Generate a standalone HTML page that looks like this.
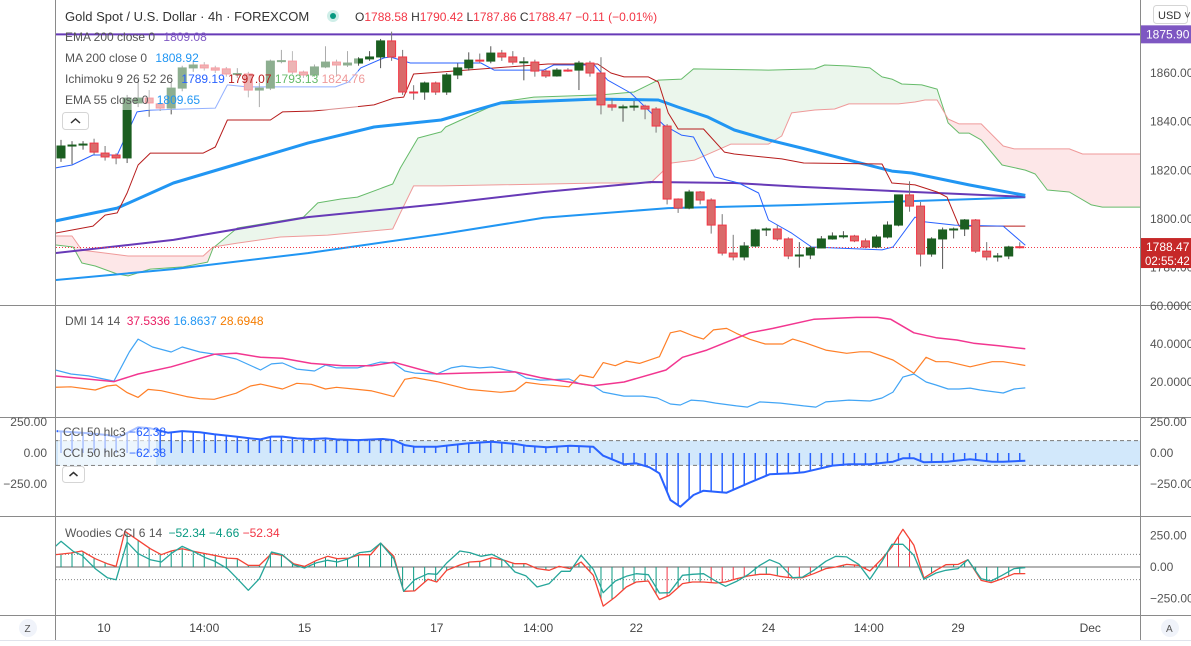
<!DOCTYPE html>
<html><head><meta charset="utf-8">
<style>
html,body{margin:0;padding:0;background:#fff;width:1191px;height:646px;overflow:hidden;font-family:"Liberation Sans",sans-serif;}
svg text{font-family:"Liberation Sans",sans-serif;}
</style></head>
<body>
<svg id="chart" width="1191" height="646" viewBox="0 0 1191 646" xmlns="http://www.w3.org/2000/svg">
<defs>
<clipPath id="cMain"><rect x="56" y="0" width="1084" height="305"/></clipPath>
<clipPath id="cDmi"><rect x="56" y="306" width="1084" height="111"/></clipPath>
<clipPath id="cCci"><rect x="56" y="418" width="1084" height="98"/></clipPath>
<clipPath id="cWood"><rect x="56" y="517" width="1084" height="98"/></clipPath>
<clipPath id="cAboveB"><path id="pAboveB" d=""/></clipPath>
<clipPath id="cAboveA"><path id="pAboveA" d=""/></clipPath>
</defs>
<rect x="0" y="0" width="1191" height="646" fill="#fff"/>
<g id="gMain" clip-path="url(#cMain)"></g>
<g id="gDmi" clip-path="url(#cDmi)"></g>
<g id="gCci" clip-path="url(#cCci)"></g>
<g id="gWood" clip-path="url(#cWood)"></g>
<g stroke="#8a8a8a" stroke-width="1">
<line x1="55.5" y1="0" x2="55.5" y2="640"/>
<line x1="1140.5" y1="0" x2="1140.5" y2="640"/>
<line x1="0" y1="305.5" x2="1191" y2="305.5"/>
<line x1="0" y1="417.5" x2="1191" y2="417.5"/>
<line x1="0" y1="516.5" x2="1191" y2="516.5"/>
<line x1="0" y1="615.5" x2="1191" y2="615.5"/>
</g>
<line x1="0" y1="640.5" x2="1191" y2="640.5" stroke="#e0e3eb"/>
<g id="gAxis" font-size="12" fill="#555"></g>
<g font-size="12">
<rect x="58" y="46" width="300" height="64" fill="#fff" fill-opacity="0.5"/>
<text x="65" y="21" font-size="13" fill="#333">Gold Spot / U.S. Dollar · 4h · FOREXCOM</text>
<circle cx="333" cy="16" r="6" fill="#cfeee8"/><circle cx="333" cy="16" r="3" fill="#089981"/>
<text x="355" y="21" fill="#333">O<tspan fill="#f23645">1788.58</tspan> H<tspan fill="#f23645">1790.42</tspan> L<tspan fill="#f23645">1787.86</tspan> C<tspan fill="#f23645">1788.47</tspan> <tspan fill="#f23645">−0.11 (−0.01%)</tspan></text>
<text x="65" y="41" fill="#555">EMA 200 close 0 <tspan dx="5" fill="#7e57c2">1809.08</tspan></text>
<text x="65" y="62" fill="#555">MA 200 close 0 <tspan dx="5" fill="#2196f3">1808.92</tspan></text>
<text x="65" y="83" fill="#555">Ichimoku 9 26 52 26 <tspan dx="5" fill="#2962ff">1789.19</tspan> <tspan fill="#b71c1c">1797.07</tspan> <tspan fill="#66bb6a">1793.13</tspan> <tspan fill="#ef9a9a">1824.76</tspan></text>
<text x="65" y="104" fill="#555">EMA 55 close 0 <tspan dx="5" fill="#2196f3">1809.65</tspan></text>
<rect x="62.5" y="112.5" width="26" height="17" rx="3" fill="#fff" stroke="#d5d5d5"/>
<path d="M71 123 L75.5 119 L80 123" fill="none" stroke="#333" stroke-width="1.5"/>
</g>
<g font-size="12">
<text x="65" y="325" fill="#555">DMI 14 14 <tspan dx="3" fill="#e91e63">37.5336</tspan> <tspan fill="#2196f3">16.8637</tspan> <tspan fill="#f57c00">28.6948</tspan></text>
</g>
<g font-size="12">
<rect x="58" y="425" width="98" height="40" fill="#fff" fill-opacity="0.6"/>
<text x="63" y="436" fill="#555">CCI 50 hlc3 <tspan fill="#2962ff">−62.38</tspan></text>
<text x="63" y="457" fill="#555">CCI 50 hlc3 <tspan fill="#2962ff">−62.38</tspan></text>
<rect x="62.5" y="466.5" width="22" height="16" rx="3" fill="#fff" stroke="#d5d5d5"/>
<path d="M69.5 476 L73.5 472.5 L77.5 476" fill="none" stroke="#333" stroke-width="1.5"/>
</g>
<g font-size="12">
<text x="65" y="537" fill="#555">Woodies CCI 6 14 <tspan dx="3" fill="#089981">−52.34</tspan> <tspan fill="#089981">−4.66</tspan> <tspan fill="#f23645">−52.34</tspan></text>
</g>
<g>
<rect x="1153.5" y="5.5" width="34" height="18" rx="3" fill="#fff" stroke="#d5d5d5"/>
<text x="1158" y="19" font-size="11" fill="#333">USD ˅</text>
</g>
<g><circle cx="28" cy="628" r="9" fill="#f0f3fa"/><text x="24.5" y="632" font-size="10" fill="#555">Z</text></g>
<g><circle cx="1170" cy="628" r="9" fill="#f0f3fa"/><text x="1166" y="632" font-size="10" fill="#555">A</text></g>
</svg>
<script>
const opens=[1825.1,1830.0,1830.4,1831.2,1827.1,1826.3,1825.1,1847.7,1849.7,1847.3,1845.6,1853.8,1862.1,1863.3,1862.1,1861.7,1859.6,1859.6,1853.0,1853.8,1864.9,1864.9,1860.4,1859.2,1862.5,1864.5,1863.3,1864.1,1865.8,1866.6,1873.2,1866.6,1852.2,1852.2,1855.9,1852.2,1859.2,1862.1,1865.3,1864.9,1868.2,1866.6,1864.5,1864.5,1860.8,1858.8,1861.2,1861.2,1864.1,1860.0,1846.9,1846.0,1846.0,1846.4,1845.2,1838.2,1808.2,1804.5,1811.1,1807.8,1797.5,1786.0,1784.4,1788.9,1795.5,1795.9,1791.8,1784.8,1785.2,1788.1,1791.8,1793.0,1793.0,1791.0,1788.5,1792.6,1797.5,1809.9,1805.3,1785.6,1791.8,1795.5,1795.9,1799.6,1786.8,1784.4,1784.8,1788.6];
const closes=[1830.0,1830.4,1830.8,1827.5,1825.5,1825.1,1849.7,1849.7,1847.7,1845.6,1853.8,1862.1,1863.3,1862.1,1861.2,1859.6,1859.8,1853.0,1853.8,1864.9,1865.1,1860.4,1859.2,1862.5,1864.5,1863.3,1864.1,1865.8,1866.6,1873.2,1866.6,1852.2,1852.0,1855.9,1852.2,1859.2,1862.1,1865.3,1864.9,1868.2,1866.6,1864.5,1864.6,1860.8,1858.8,1861.2,1861.0,1864.1,1860.0,1846.9,1846.0,1846.1,1846.4,1845.2,1838.2,1808.2,1804.5,1811.1,1807.8,1797.5,1786.0,1784.4,1788.9,1795.5,1795.9,1791.8,1784.8,1785.2,1788.1,1791.8,1793.0,1793.1,1791.0,1788.5,1792.6,1797.5,1809.9,1805.3,1785.6,1791.8,1795.5,1795.9,1799.6,1786.8,1784.4,1784.8,1788.5,1788.47];
const highs=[1832.5,1832.0,1832.0,1833.0,1830.0,1827.0,1851.0,1857.0,1853.0,1849.0,1856.0,1863.0,1864.5,1864.5,1863.0,1862.5,1862.0,1860.5,1856.0,1865.5,1869.5,1869.0,1861.0,1863.5,1871.0,1865.5,1869.0,1866.5,1869.0,1874.0,1877.0,1869.5,1855.0,1856.5,1856.5,1860.0,1864.0,1868.5,1868.0,1871.0,1869.5,1869.0,1866.5,1865.5,1861.5,1862.0,1862.0,1865.0,1865.0,1866.5,1849.5,1847.0,1848.5,1847.0,1846.0,1839.0,1808.5,1812.0,1811.5,1808.5,1802.0,1793.5,1790.5,1796.0,1796.5,1797.5,1792.5,1790.5,1789.0,1793.0,1794.5,1795.0,1793.5,1792.0,1793.5,1799.0,1810.0,1815.5,1807.0,1792.5,1796.5,1796.5,1800.0,1800.0,1790.5,1786.0,1789.0,1790.42];
const lows=[1823.5,1822.5,1828.5,1826.5,1824.0,1822.5,1823.0,1846.0,1842.0,1844.5,1843.0,1852.5,1860.5,1861.0,1860.0,1858.5,1858.0,1850.0,1846.0,1853.0,1864.0,1859.5,1858.0,1858.5,1862.0,1859.0,1862.5,1863.0,1865.0,1862.0,1865.0,1851.0,1849.0,1849.0,1851.0,1851.0,1857.5,1861.0,1864.0,1864.0,1865.0,1863.5,1857.0,1858.5,1858.0,1858.5,1860.5,1853.0,1858.5,1843.0,1844.5,1840.0,1844.5,1841.0,1835.5,1806.0,1802.5,1804.0,1806.0,1794.0,1785.0,1783.0,1783.0,1788.5,1793.0,1791.0,1783.5,1780.0,1783.5,1788.0,1791.5,1792.0,1790.5,1788.0,1788.0,1792.0,1797.0,1803.0,1780.5,1784.5,1779.5,1792.0,1793.0,1786.0,1783.0,1782.5,1783.5,1787.86];
const ema55=[[-0.5,1799.2],[5.1,1804.5],[10.2,1814.8],[16.3,1823.0],[22.4,1831.2],[28.4,1837.8],[34.5,1840.7],[39.9,1847.7],[48.4,1849.3],[54.2,1848.9],[56,1846.0],[58.7,1841.9],[61.1,1836.6],[64.2,1832.5],[67.2,1829.2],[75.4,1819.7],[77.2,1818.9],[82.4,1814.0],[87.5,1809.7]];
const ema200=[[-0.5,1786.0],[10.2,1791.4],[22.4,1800.8],[34.5,1806.2],[43.8,1811.1],[53.5,1815.2],[61.1,1814.8],[67.2,1813.2],[79.5,1810.7],[87.5,1809.1]];
const ma200=[[-0.5,1774.9],[10.2,1779.4],[22.4,1786.0],[34.5,1793.8],[43.8,1800.5],[55.1,1804.5],[67.2,1805.8],[87.5,1808.9]];
const tenkan=[[-0.5,1821.0],[1,1822.2],[2.9,1826.3],[5.1,1826.3],[6.9,1844.0],[8.1,1844.8],[14,1845.6],[15.1,1855.1],[16.9,1854.3],[24.9,1854.3],[26.1,1856.3],[27.2,1862.1],[29.3,1866.2],[29.9,1866.6],[31.7,1864.1],[38.1,1864.1],[39.3,1861.2],[43.8,1861.2],[44.7,1863.3],[48.4,1863.3],[49.6,1857.1],[51.7,1851.8],[54.7,1838.6],[56.3,1834.5],[57.4,1833.7],[59.3,1817.3],[61.5,1814.8],[63.3,1810.7],[64.2,1799.6],[66.3,1794.2],[68.1,1788.5],[74.5,1787.3],[75.5,1788.5],[77.5,1800.8],[78.4,1798.8],[81.1,1797.5],[85.5,1797.1],[87.5,1789.2]];
const kijun=[[-0.5,1794.2],[2.9,1797.1],[4,1801.6],[5.1,1802.5],[6,1810.7],[7,1822.2],[8.1,1827.1],[12.9,1827.1],[14,1829.6],[15.1,1840.7],[19,1840.7],[20.1,1844.0],[22.9,1844.4],[26.5,1846.0],[28.4,1846.9],[30.2,1849.7],[31.1,1850.1],[32,1859.6],[34.5,1860.4],[44.2,1863.7],[48.7,1863.7],[49.9,1860.0],[51.1,1858.4],[53.3,1858.4],[54.2,1856.3],[55.1,1843.6],[56,1837.0],[58.3,1837.0],[60.2,1827.5],[61.1,1826.7],[65.4,1824.7],[67.4,1823.0],[74.5,1822.6],[75.4,1814.8],[77.5,1814.0],[79.5,1811.1],[80.4,1809.0],[81.5,1797.1],[87.5,1797.1]];
const spanA=[[-0.5,1789.3],[1.1,1788.5],[1.9,1781.9],[3.1,1780.7],[5.1,1777.4],[6.1,1776.6],[8.1,1779.4],[11.1,1780.3],[13.3,1782.3],[13.8,1788.1],[16,1796.3],[19.9,1799.2],[22,1800.8],[23.3,1806.6],[25.4,1808.2],[26.9,1809.0],[30.1,1814.4],[30.8,1821.0],[32.4,1833.3],[34.5,1835.8],[34.9,1837.8],[39.9,1848.1],[42.9,1850.1],[49,1851.0],[52,1852.2],[54.2,1857.1],[56.3,1857.5],[57.4,1861.7],[64.2,1861.2],[68.4,1861.7],[69.3,1863.3],[71.5,1862.9],[73.4,1862.1],[74.5,1858.4],[75.4,1857.5],[76.3,1855.5],[78.1,1855.1],[79.5,1853.4],[80.5,1839.5],[81.5,1835.3],[82.4,1835.3],[83.5,1832.5],[85.4,1822.2],[87.5,1820.1],[88.4,1818.5],[89.5,1811.9],[91.5,1811.1],[93.5,1805.8],[94.5,1804.9],[98.5,1804.9]];
const spanB=[[-0.5,1793.0],[1,1793.0],[1.9,1787.2],[6.1,1784.8],[12.9,1784.8],[13.8,1788.5],[16,1790.1],[19.9,1792.6],[24.2,1793.4],[30.1,1795.9],[30.8,1802.5],[32,1813.6],[34.5,1813.6],[49,1814.8],[53.5,1814.8],[55.4,1823.0],[57.5,1824.2],[60.8,1830.8],[64.2,1830.8],[65.4,1834.1],[66.3,1843.6],[68.4,1844.8],[70.2,1845.2],[71.5,1847.3],[76,1847.3],[77.5,1848.1],[78.4,1848.9],[79.5,1848.9],[80.5,1841.1],[81.5,1839.1],[83.5,1839.1],[85.5,1830.0],[86.5,1828.8],[91.5,1828.8],[92.7,1826.7],[98.5,1826.7]];
const dmiPlus=[[-0.5,26.3],[0.9,24.2],[2.5,23.2],[4.8,20.5],[6.2,35.8],[7,42.6],[8.3,38.4],[10,35.8],[11,38.4],[12.6,35.8],[13.9,34.7],[15.9,32.1],[18.1,26.3],[19.1,29.5],[20.1,30],[21.4,26.8],[23,25.8],[24,28.9],[25,27.4],[26.9,27.4],[29,30.5],[30.2,30],[31.2,25.8],[32.1,24.7],[34.1,24.2],[35.4,27.4],[36.4,28.4],[38,27.4],[39.1,27.9],[41.2,25.3],[42.2,22.1],[43.5,21],[46.1,21.6],[47.1,19],[48.3,18],[49.2,14.7],[51.1,12.6],[52.8,12.6],[54.1,11.6],[55.3,8.4],[56.2,7.9],[57.2,10.5],[58.3,10],[59.4,8.9],[61.3,7.4],[62.3,6.8],[63.4,9.5],[65.3,8.9],[67.4,7.4],[68.5,6.8],[69.4,9.5],[71.5,10.5],[73.4,10],[74.5,11.6],[75.5,14.7],[76.4,22.6],[77.4,24.2],[78.5,20],[79.4,18.4],[80.5,16.3],[81.5,16.3],[82.5,16.8],[83.4,15.8],[85.5,14.2],[86.5,16.3],[87.5,16.9]];
const adx=[[-0.5,23.2],[4.8,20.2],[7,24.2],[10,28],[13.9,34.6],[15.9,35.1],[18.1,33],[20.1,32.5],[22.7,29.8],[25.6,28.6],[28.2,28.6],[30.2,30.4],[34.1,24.2],[36.6,24.7],[41.2,25.3],[43.5,22.3],[48.3,18],[51.1,20],[54.9,26.3],[56.4,33],[58.6,36.8],[62.5,45.9],[64.6,48.2],[68.3,53],[72.2,54],[74.1,54],[75.3,53],[77.4,45.9],[79.4,43.3],[81.3,42.1],[82.8,40.4],[85.1,39.1],[87.5,37.5]];
const dmiMinus=[[-0.5,17.2],[0.9,17.5],[3.1,15.8],[4.2,17.9],[5,18.4],[6,14.4],[7,11.9],[7.9,16.1],[9.1,15.4],[11.4,12.3],[12.6,11.2],[13.9,10.9],[15.9,14.1],[17.2,17.9],[18.1,18.9],[20.1,16.3],[21.4,19.3],[22.7,18.8],[24,16.3],[25,17.2],[26.9,16.1],[28.2,15.3],[30.2,12.3],[31.2,21.4],[32.1,22.3],[34.1,20.2],[37,16.1],[39.9,14.6],[41.2,15.3],[42.2,19.8],[43.5,18.8],[46.1,17.5],[47.1,23.7],[48.3,22.3],[49.2,30.2],[50.3,28.6],[51.3,31],[52.5,29.8],[54.3,33.3],[55.3,45.9],[56.2,47],[57.4,44.2],[58.3,42.6],[59.2,47.4],[60.4,48.2],[61.3,45.6],[62.5,42.5],[63.9,40],[65.5,40],[66.4,42.6],[67.5,40.7],[69.4,36.8],[71.3,35.1],[72.5,35.9],[73.4,35.9],[75.5,31.6],[77.4,24.6],[78.5,33],[79.4,30.7],[80.5,30.7],[82.5,28],[84.5,30.7],[85.5,30.7],[87.5,28.7]];
const cci50=[[-0.4,177],[1.9,164],[4.2,145],[5.2,126],[7,207],[8.1,199],[9.7,164],[11,177],[12.6,167],[13.9,151],[15.9,132],[17.2,118],[18.1,110],[19.1,132],[20.1,132],[21.4,118],[22.7,113],[24,118],[25,110],[26.9,104],[29.2,113],[30.2,104],[31.2,64],[32.1,51],[34.1,51],[35.4,64],[37,78],[39.1,91],[41.2,73],[42.2,59],[44.1,46],[46.2,59],[48.3,51],[49.2,-22],[51.1,-91],[52.2,-83],[53.4,-115],[54.3,-164],[55.3,-379],[56.2,-433],[57.4,-339],[58.3,-304],[60.4,-320],[62.5,-239],[64.3,-172],[66.4,-164],[67.4,-156],[70,-102],[71.5,-91],[73.4,-91],[75.5,-70],[76.4,-43],[77.4,-43],[78.3,-75],[80.4,-70],[82.5,-51],[84.5,-70],[85.5,-70],[87.5,-62]];
const woodTurbo=[[-0.5,164],[0,204],[1.1,125],[1.9,93],[3.1,-13],[4.2,-85],[5,-101],[6,198],[7,106],[8.1,58],[9.1,40],[10,106],[11,164],[12,125],[13.1,74],[13.9,48],[15.1,-13],[16,-93],[17,-185],[18,-93],[19.1,119],[20.1,98],[21.1,18],[22.1,-8],[23.2,34],[24.2,53],[25.1,40],[26.1,66],[27.1,114],[28.1,125],[29,190],[30.2,66],[31.1,-193],[32.1,-101],[33.3,-53],[34.1,-58],[35,32],[36.2,127],[37.1,114],[38.1,85],[39.1,101],[40.2,53],[41.2,-40],[42.2,-71],[43.2,-159],[44.3,-132],[45.4,-34],[46.2,-34],[47.2,93],[48.3,-18],[49.2,-204],[50.3,-111],[51.3,-74],[52.2,-53],[53.3,-61],[54.3,-206],[55.2,-204],[56.4,-66],[57.3,-58],[58.3,-53],[59.4,-111],[60.3,-153],[61.3,-114],[62.4,-58],[63.4,13],[64.3,58],[65.2,26],[66.4,-85],[67.3,-80],[68.3,-26],[69.4,45],[70.3,85],[71.3,80],[72.4,21],[73.4,-98],[74.5,45],[75.4,180],[76.4,180],[77.4,93],[78.3,-98],[79.4,-48],[80.3,-26],[81.4,-13],[82.3,58],[83.5,-93],[84.4,-111],[85.4,-66],[86.5,-13],[87.5,-5]];
const woodCci=[[-0.5,98],[0.9,111],[1.9,127],[3.1,66],[4.2,26],[5,5],[5.8,283],[7,212],[8.1,145],[9.1,98],[10,127],[11,145],[12,125],[13.1,106],[13.9,93],[15.1,71],[16,66],[17,13],[18,13],[19.1,106],[20.1,93],[21.1,26],[22.1,5],[23.2,53],[24.2,85],[25.1,66],[26.1,71],[27.1,98],[28.1,98],[29,190],[30.2,85],[31.1,-193],[32.1,-190],[33.3,-98],[34.1,-119],[35,-26],[36.2,16],[37.1,40],[38.1,45],[39.1,74],[40.2,53],[41.2,26],[42.2,26],[43.2,-13],[44.3,-26],[45.2,5],[46.2,-13],[47.2,40],[48.3,-66],[49.2,-310],[50.3,-238],[51.3,-159],[52.2,-119],[53.3,-111],[54.3,-259],[55.2,-225],[56.4,-132],[57.3,-119],[58.3,-119],[59.4,-127],[60.3,-119],[61.3,-93],[62.4,-71],[63.4,-58],[64.3,-58],[65.2,-74],[66.4,-87],[67.3,-85],[68.3,-53],[69.4,-13],[70.3,0],[71.3,21],[72.4,13],[73.4,-32],[74.5,66],[75.4,159],[76.4,299],[77.4,172],[78.3,-87],[79.4,-26],[80.3,18],[81.4,21],[82.3,58],[83.5,-106],[84.4,-124],[85.4,-93],[86.5,-53],[87.5,-52]];
const priceTicks=[1880,1860,1840,1820,1800,1780];
const dmiTicks=[60,40,20];
const cciTicks=[250,0,-250];
const woodTicks=[250,0,-250];
const timeLabels=[["10",3.9],["14:00",13],["15",22.1],["17",34.1],["14:00",43.3],["22",52.2],["24",64.2],["14:00",73.3],["29",81.4],["Dec",93.4]];
const hLinePrice=1875.90;
const lastPrice=1788.47;

const NS="http://www.w3.org/2000/svg";
const X=i=>61+i*11.02;
const YP=p=>219-(p-1800)*2.433;
const YD=v=>382-(v-20)*1.9;
const YC=v=>453-v*0.124;
const YW=v=>567-v*0.126;
function mk(tag,attrs,parent){const e=document.createElementNS(NS,tag);for(const k in attrs)e.setAttribute(k,attrs[k]);parent.appendChild(e);return e;}
function interp(k,i){if(i<=k[0][0])return k[0][1];for(let j=1;j<k.length;j++){if(i<=k[j][0]){const a=k[j-1],b=k[j];return a[1]+(b[1]-a[1])*(i-a[0])/(b[0]-a[0]);}}return k[k.length-1][1];}
function pathD(k,ys){return k.map((p,j)=>(j?'L':'M')+X(p[0]).toFixed(1)+' '+ys(p[1]).toFixed(1)).join(' ');}
function line(k,ys,color,w,parent,name){const e=mk('path',{d:pathD(k,ys),fill:'none',stroke:color,'stroke-width':w,'stroke-linejoin':'round'},parent);


return e;}
const gM=document.getElementById('gMain'),gD=document.getElementById('gDmi'),gC=document.getElementById('gCci'),gW=document.getElementById('gWood'),gA=document.getElementById('gAxis');

// cloud via clipping
const x0=X(spanA[0][0]),xA1=X(spanA[spanA.length-1][0]),xB1=X(spanB[spanB.length-1][0]);
document.getElementById('pAboveB').setAttribute('d',pathD(spanB,YP)+` L${xB1} 0 L${x0} 0 Z`);
document.getElementById('pAboveA').setAttribute('d',pathD(spanA,YP)+` L${xA1} 0 L${x0} 0 Z`);
const cg=mk('path',{d:pathD(spanA,YP)+` L${xA1} 305 L${x0} 305 Z`,fill:'rgba(76,175,80,0.11)','clip-path':'url(#cAboveB)'},gM);


const cr=mk('path',{d:pathD(spanB,YP)+` L${xB1} 305 L${x0} 305 Z`,fill:'rgba(242,54,69,0.12)','clip-path':'url(#cAboveA)'},gM);


line(spanA,YP,'#66bb6a',1,gM,'senkou-span-a');
line(spanB,YP,'#ef9a9a',1,gM,'senkou-span-b');
line(ma200,YP,'#2196f3',2,gM,'ma200-line');
line(ema200,YP,'#673ab7',2,gM,'ema200-line');
line(ema55,YP,'#2196f3',3,gM,'ema55-line');
line(kijun,YP,'#b71c1c',1,gM,'kijun-line');
line(tenkan,YP,'#2962ff',1,gM,'tenkan-line');
const hl=mk('line',{x1:56,x2:1140,y1:YP(hLinePrice),y2:YP(hLinePrice),stroke:'#673ab7','stroke-width':2},gM);


const pl=mk('line',{x1:56,x2:1140,y1:YP(lastPrice)+0.5,y2:YP(lastPrice)+0.5,stroke:'#f23645','stroke-width':1,'stroke-dasharray':'1 2'},gM);


for(let i=0;i<opens.length;i++){const o=opens[i],c=closes[i],up=c>=o;const x=X(i);
 const col=up?'#1b5e20':'#d96a6a',bd=up?'#1b5e20':'#f23645';
 const w=mk('line',{x1:x,x2:x,y1:YP(highs[i]),y2:YP(lows[i]),stroke:up?'#555':'#777','stroke-width':1},gM);
 
 
 const top=YP(Math.max(o,c)),h=Math.max(1,Math.abs(YP(o)-YP(c)));
 const r=mk('rect',{x:x-4,y:top,width:8,height:h,fill:col,stroke:bd,'stroke-width':1},gM);
 
 }

line(dmiPlus,YD,'#42a5f5',1.2,gD,'dmi-plus-line');
line(dmiMinus,YD,'#ff7f27',1.2,gD,'dmi-minus-line');
line(adx,YD,'#f23690',1.5,gD,'adx-line');

const band=mk('rect',{x:56,y:YC(100),width:1084,height:YC(-100)-YC(100),fill:'#d2e8fb'},gC);


[100,-100].forEach(v=>{const l=mk('line',{x1:56,x2:1140,y1:YC(v),y2:YC(v),stroke:'#777','stroke-dasharray':'4 3'},gC);
 
 });
for(let i=0;i<=87;i++){const v=interp(cci50,i);const s=mk('line',{x1:X(i),x2:X(i),y1:YC(0),y2:YC(v),stroke:'#2962ff','stroke-width':1.5},gC);
 
 }
line(cci50,YC,'#2962ff',2,gC,'cci50-line');

[100,-100].forEach(v=>{const l=mk('line',{x1:56,x2:1140,y1:YW(v),y2:YW(v),stroke:'#888','stroke-dasharray':'1 2'},gW);
 
 });
const zl=mk('line',{x1:56,x2:1140,y1:YW(0),y2:YW(0),stroke:'#666'},gW);


for(let i=0;i<=87;i++){const v=interp(woodCci,i);const t=interp(woodTurbo,i);
 const red=(i>=48&&i<=75&&t<v+40)||(v>0&&i>=74&&i<=77);
 const s=mk('line',{x1:X(i),x2:X(i),y1:YW(0),y2:YW(v),stroke:red?'#f23645':'#089981','stroke-width':1},gW);
 
 }
line(woodCci,YW,'#f44336',1.3,gW,'woodies-cci-line');
line(woodTurbo,YW,'#26a69a',1.3,gW,'woodies-turbo-line');

function txt(x,y,s,name,anchor,fill,size){const t=mk('text',{x:x,y:y,'text-anchor':anchor||'start',fill:fill||'#555','font-size':size||12},gA);t.textContent=s;
 
 return t;}
const fmt=v=>v===0?'0.00':(v>0?'':'−')+Math.abs(v).toFixed(2);
priceTicks.forEach(p=>{const y=YP(p);if(y>25)txt(1150,y+4,p.toFixed(2),'price-tick-label');});
dmiTicks.forEach(v=>txt(1150,YD(v)+4,v.toFixed(4),'dmi-tick-label'));
cciTicks.forEach(v=>{txt(1150,YC(v)+4,fmt(v),'cci-tick-label-right');txt(47,YC(v)+4,fmt(v),'cci-tick-label-left','end');});
woodTicks.forEach(v=>txt(1150,YW(v)+4,fmt(v),'woodies-tick-label'));
timeLabels.forEach(t=>txt(X(t[1]),632,t[0],'time-label','middle','#444'));
const tg1=mk('rect',{x:1141,y:YP(hLinePrice)-9,width:50,height:18,fill:'#7e57c2'},gA);


txt(1146,YP(hLinePrice)+4,hLinePrice.toFixed(2),'hline-price-text','start','#fff');
const tg2=mk('rect',{x:1141,y:YP(lastPrice)-9,width:50,height:30,fill:'#c62828'},gA);


txt(1146,YP(lastPrice)+4,lastPrice.toFixed(2),'last-price-text','start','#fff');
txt(1145,YP(lastPrice)+18,'02:55:42','bar-countdown','start','#fff',11.5);
</script>
</body></html>
